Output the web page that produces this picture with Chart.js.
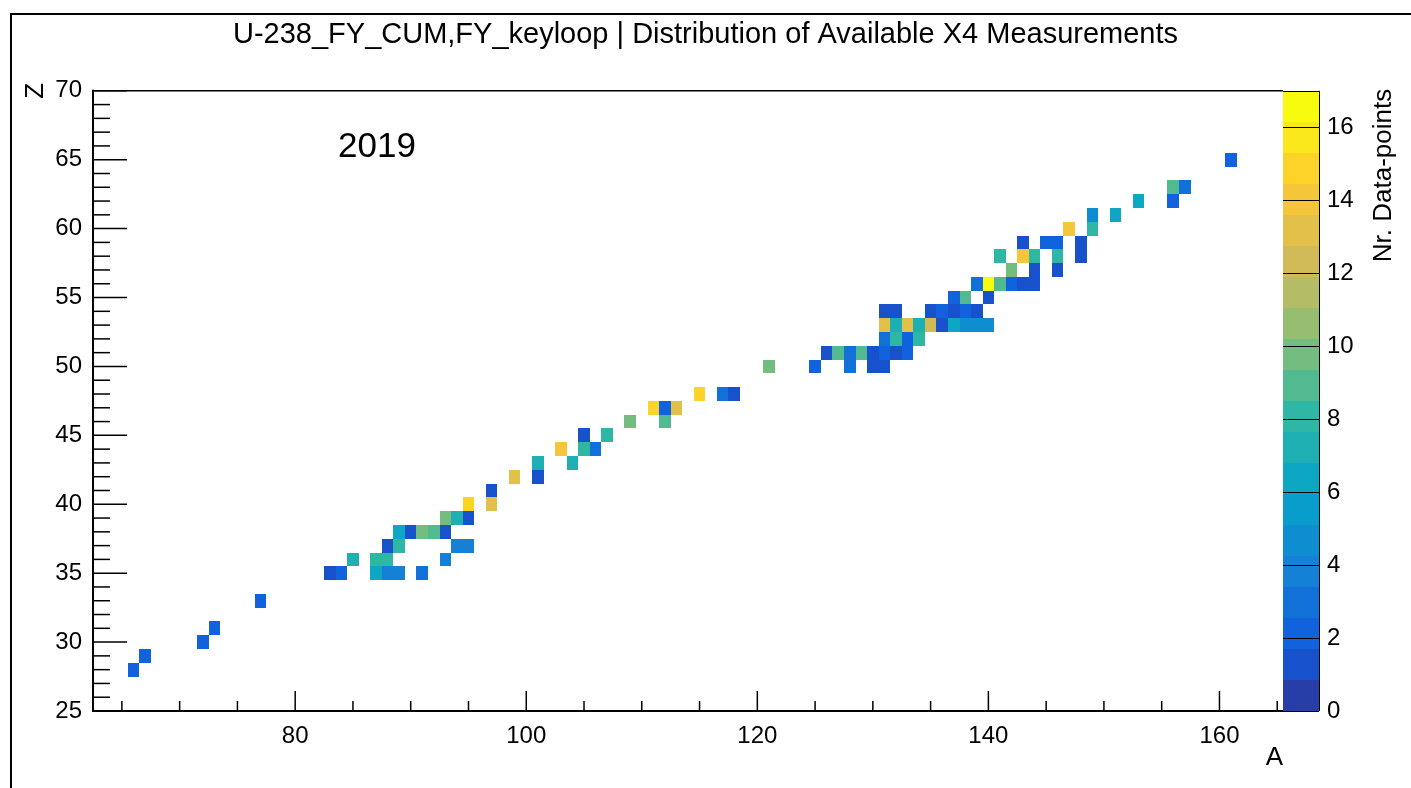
<!DOCTYPE html>
<html>
<head>
<meta charset="utf-8">
<title>U-238 FY_CUM X4 measurements</title>
<script src="https://cdn.jsdelivr.net/npm/chart.js@4.4.1/dist/chart.umd.min.js"></script>
<style>
  html, body { margin: 0; padding: 0; background: #fff; }
  #wrap { width: 1411px; height: 788px; }
</style>
</head>
<body>
<div id="wrap"><canvas id="myChart" width="1411" height="788"></canvas></div>
<script>
// one entry per filled (A, Z) bin: mass number, charge and number of X4 data points
const cellA = [66, 67, 72, 73, 77,
  83, 84, 87, 88, 89, 91,
  85, 87, 88, 93,
  88, 89, 94, 95,
  89, 90, 91, 92, 93,
  93, 94, 95,
  95, 97,
  97,
  99, 101,
  101, 104,
  103, 105, 106,
  105, 107,
  109, 112,
  111, 112, 113,
  115, 117, 118,
  121, 125, 128, 130, 131,
  126, 127, 128, 129, 130, 131, 132, 133,
  131, 132, 133, 134,
  131, 132, 133, 134, 135, 136, 137, 138, 139, 140,
  131, 132, 135, 136, 137, 138, 139,
  137, 138, 140,
  139, 140, 141, 142, 143, 144,
  142, 144, 146,
  141, 143, 144, 146, 148,
  143, 145, 146, 148,
  147, 149,
  149, 151,
  153, 156,
  156, 157,
  161];
const cellZ = [28, 29, 30, 31, 33,
  35, 35, 35, 35, 35, 35,
  36, 36, 36, 36,
  37, 37, 37, 37,
  38, 38, 38, 38, 38,
  39, 39, 39,
  40, 40,
  41,
  42, 42,
  43, 43,
  44, 44, 44,
  45, 45,
  46, 46,
  47, 47, 47,
  48, 48, 48,
  50, 50, 50, 50, 50,
  51, 51, 51, 51, 51, 51, 51, 51,
  52, 52, 52, 52,
  53, 53, 53, 53, 53, 53, 53, 53, 53, 53,
  54, 54, 54, 54, 54, 54, 54,
  55, 55, 55,
  56, 56, 56, 56, 56, 56,
  57, 57, 57,
  58, 58, 58, 58, 58,
  59, 59, 59, 59,
  60, 60,
  61, 61,
  62, 62,
  63, 63,
  65];
const cellCount = [2, 2, 2, 2, 2,
  1, 2, 6, 4, 4, 3,
  7, 8, 8, 4,
  1, 8, 4, 4,
  6, 1, 10, 9, 1,
  10, 7, 1,
  15, 13,
  1,
  13, 1,
  7, 7,
  14, 8, 3,
  1, 8,
  10, 9,
  15, 2, 13,
  15, 3, 1,
  10, 2, 3, 1, 1,
  1, 9, 3, 9, 1, 2, 1, 2,
  3, 8, 2, 8,
  13, 7, 13, 7, 12, 1, 6, 5, 5, 5,
  1, 1, 1, 2, 1, 2, 1,
  2, 9, 1,
  3, 17, 9, 2, 1, 1,
  10, 1, 1,
  8, 14, 8, 8, 1,
  1, 2, 2, 1,
  14, 8,
  5, 6,
  6, 2,
  9, 3,
  2];

const xLabels = [80, 100, 120, 140, 160];
const yLabels = [25, 30, 35, 40, 45, 50, 55, 60, 65, 70];
const zLabels = [0, 2, 4, 6, 8, 10, 12, 14, 16];

const zMax = 17;
const nContours = 20;

// ROOT kBird palette
const birdStops = [0.0, 0.125, 0.25, 0.375, 0.5, 0.625, 0.75, 0.875, 1.0];
const birdRed   = [0.2082, 0.0592, 0.0780, 0.0232, 0.1802, 0.5301, 0.8186, 0.9956, 0.9764];
const birdGreen = [0.1664, 0.3599, 0.5041, 0.6419, 0.7178, 0.7492, 0.7328, 0.7862, 0.9832];
const birdBlue  = [0.5293, 0.8684, 0.8385, 0.7914, 0.6425, 0.4662, 0.3499, 0.1968, 0.0539];

function birdColour(f) {
  let k = 0;
  while (k < birdStops.length - 2 && f > birdStops[k + 1]) k++;
  const t = (f - birdStops[k]) / (birdStops[k + 1] - birdStops[k]);
  const mix = arr => Math.round(255 * (arr[k] + (arr[k + 1] - arr[k]) * t));
  return `rgb(${mix(birdRed)},${mix(birdGreen)},${mix(birdBlue)})`;
}
function bandColour(i) {
  const idx = Math.min(254, Math.floor((i + 0.99) * 255 / nContours));
  return birdColour(idx / 254);
}
function bandOf(v) {
  return Math.min(nContours - 1, Math.floor(0.01 + v * nContours / zMax));
}

const cells = cellA.map((a, i) => ({ x: a, y: cellZ[i], v: cellCount[i] }));

const FONT = "'Liberation Sans', Arial, Helvetica, sans-serif";
Chart.defaults.font.family = FONT;
Chart.defaults.color = '#000';

function line(ctx, x0, y0, x1, y1) {
  ctx.beginPath();
  ctx.moveTo(x0, y0);
  ctx.lineTo(x1, y1);
  ctx.stroke();
}

// draws the 2D histogram cells, frame with inward ticks and the palette
const histPlugin = {
  id: 'hist2d',
  beforeDraw(chart) {
    const { ctx } = chart;
    ctx.save();
    ctx.fillStyle = '#fff';
    ctx.fillRect(0, 0, chart.width, chart.height);
    ctx.restore();
  },
  beforeDatasetsDraw(chart) {
    const { ctx, chartArea: a, scales: { x, y } } = chart;
    ctx.save();
    ctx.beginPath();
    ctx.rect(a.left, a.top, a.right - a.left, a.bottom - a.top);
    ctx.clip();
    chart.data.datasets[0].data.forEach(p => {
      const x0 = Math.round(x.getPixelForValue(p.x - 0.5));
      const x1 = Math.round(x.getPixelForValue(p.x + 0.5));
      const y0 = Math.round(y.getPixelForValue(p.y + 0.5));
      const y1 = Math.round(y.getPixelForValue(p.y - 0.5));
      ctx.fillStyle = bandColour(bandOf(p.v));
      ctx.fillRect(x0, y0, x1 - x0, y1 - y0);
    });
    ctx.restore();
  },
  afterDraw(chart) {
    const { ctx, chartArea: a, scales: { x, y, z } } = chart;
    ctx.save();

    // palette
    const barRight = a.right + 36;
    for (let i = 0; i < nContours; i++) {
      const top = Math.round(z.getPixelForValue((i + 1) * zMax / nContours));
      const bottom = Math.round(z.getPixelForValue(i * zMax / nContours));
      ctx.fillStyle = bandColour(i);
      ctx.fillRect(a.right, top, barRight - a.right, bottom - top);
    }
    ctx.strokeStyle = '#000';
    ctx.lineWidth = 1;
    z.ticks.forEach(t => {
      const py = Math.round(z.getPixelForValue(t.value)) + 0.5;
      line(ctx, a.right, py, barRight, py);
    });
    line(ctx, barRight + 0.5, a.top, barRight + 0.5, a.bottom);

    // frame: thin top, heavier axis lines
    ctx.lineWidth = 1.5;
    line(ctx, a.left, a.top, a.right, a.top);
    ctx.lineWidth = 2;
    line(ctx, a.left, a.top - 1, a.left, a.bottom + 1);
    line(ctx, a.left - 1, a.bottom, a.right, a.bottom);

    // inward tick marks
    ctx.lineWidth = 1.5;
    y.ticks.forEach(t => {
      const py = y.getPixelForValue(t.value);
      const len = t.value % 5 === 0 ? 34 : 17;
      line(ctx, a.left, py, a.left + len, py);
    });
    x.ticks.forEach(t => {
      const px = x.getPixelForValue(t.value);
      const len = t.value % 20 === 0 ? 20 : 10;
      line(ctx, px, a.bottom, px, a.bottom - len);
    });

    // axis titles drawn rotated
    ctx.fillStyle = '#000';
    ctx.textBaseline = 'middle';
    ctx.font = `26px ${FONT}`;
    ctx.save();
    ctx.translate(a.left - 57, a.top);
    ctx.rotate(-Math.PI / 2);
    ctx.textAlign = 'center';
    ctx.fillText('Z', 0, 0);
    ctx.restore();

    ctx.save();
    ctx.translate(1384, a.top - 2);
    ctx.rotate(-Math.PI / 2);
    ctx.textAlign = 'right';
    ctx.fillText('Nr. Data-points', 0, 0);
    ctx.restore();

    // year tag
    ctx.font = `35px ${FONT}`;
    ctx.textAlign = 'left';
    ctx.textBaseline = 'alphabetic';
    ctx.fillText('2019', a.left + 245, a.top + 66);

    // canvas border
    ctx.lineWidth = 2;
    ctx.strokeRect(11, 14, chart.width + 10, chart.height + 10);
    ctx.restore();
  }
};

const ctx = document.getElementById('myChart').getContext('2d');
const myChart = new Chart(ctx, {
  type: 'scatter',
  data: {
    datasets: [{
      label: 'Nr. Data-points',
      data: cells,
      pointRadius: 0,
      pointHoverRadius: 0
    }]
  },
  options: {
    responsive: false,
    animation: false,
    layout: { padding: 0 },
    plugins: {
      legend: { display: false },
      tooltip: { enabled: false },
      title: {
        display: true,
        text: 'U-238_FY_CUM,FY_keyloop | Distribution of Available X4 Measurements',
        color: '#000',
        font: { size: 29, weight: 'normal' },
        padding: { top: 18, bottom: 38 }
      }
    },
    scales: {
      x: {
        type: 'linear',
        min: 62.5,
        max: 165.5,
        grid: { display: false, drawTicks: false },
        border: { display: false },
        ticks: {
          stepSize: 5,
          includeBounds: false,
          autoSkip: false,
          maxRotation: 0,
          padding: 11,
          font: { size: 24 },
          callback: v => xLabels.includes(v) ? String(v) : ''
        },
        title: {
          display: true,
          text: 'A',
          align: 'end',
          font: { size: 26 },
          padding: { top: 0, bottom: 15 }
        },
        afterFit: s => { s.height = 77; }
      },
      y: {
        type: 'linear',
        min: 25,
        max: 70,
        grid: { display: false, drawTicks: false },
        border: { display: false },
        ticks: {
          stepSize: 1,
          autoSkip: false,
          padding: 11,
          font: { size: 24 },
          callback: v => yLabels.includes(v) ? String(v) : ''
        },
        afterFit: s => { s.width = 93; }
      },
      z: {
        axis: 'y',
        type: 'linear',
        position: 'right',
        min: 0,
        max: zMax,
        grid: { display: false, drawTicks: false },
        border: { display: false },
        ticks: {
          stepSize: 2,
          autoSkip: false,
          padding: 44,
          font: { size: 24 },
          callback: v => zLabels.includes(v) ? String(v) : ''
        },
        afterFit: s => { s.width = 128; }
      }
    }
  },
  plugins: [histPlugin]
});
</script>
</body>
</html>
